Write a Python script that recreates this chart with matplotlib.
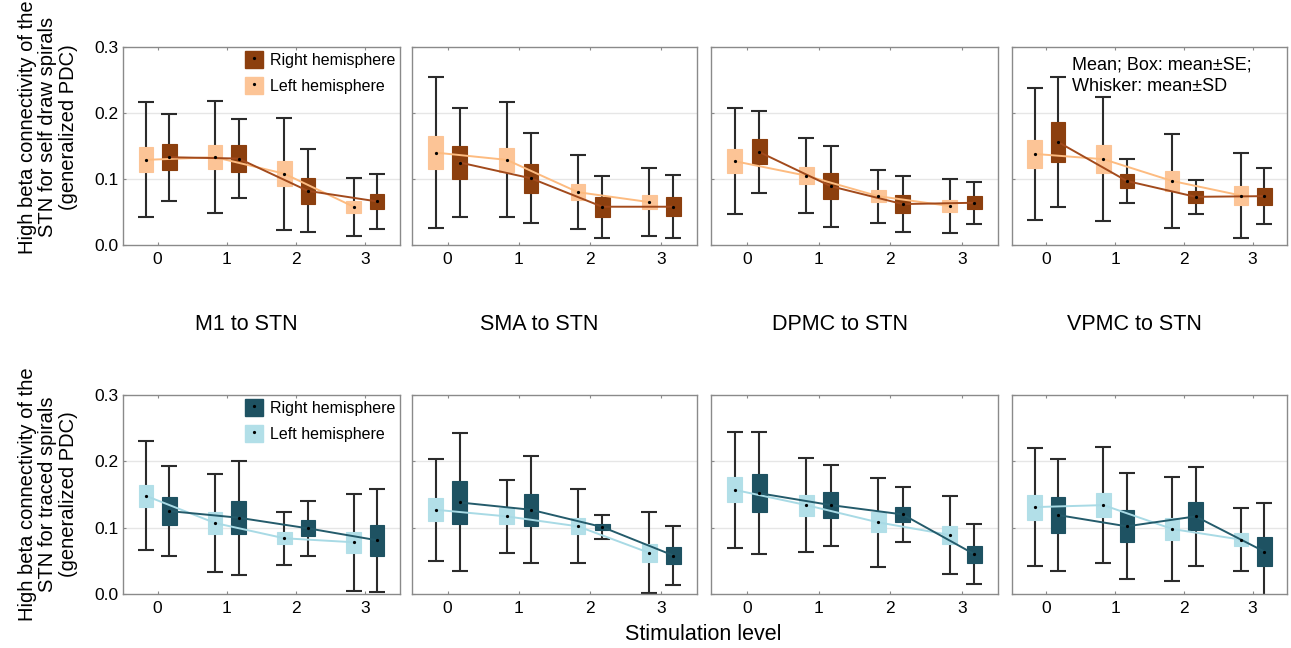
#high beta connectivity (generalized PDC) from cortical regions to STN
#box: mean +- SE, whisker: mean +- SD, per stimulation level and hemisphere

import numpy as np
import matplotlib.pyplot as plt
from matplotlib.patches import Patch
from matplotlib.lines import Line2D

plt.rcParams['font.family'] = ['Liberation Sans', 'DejaVu Sans']

regions = ["M1 to STN", "SMA to STN", "DPMC to STN", "VPMC to STN"]
levels = [0, 1, 2, 3]
y_ticks = [0.0, 0.1, 0.2, 0.3]

# self draw spirals, rows = regions, cols = stimulation level
self_left_mean = [[0.129, 0.133, 0.108, 0.058],
                  [0.140, 0.129, 0.080, 0.065],
                  [0.127, 0.105, 0.074, 0.059],
                  [0.138, 0.130, 0.097, 0.075]]
self_left_se = [[0.019, 0.018, 0.019, 0.009],
                [0.025, 0.018, 0.012, 0.011],
                [0.018, 0.013, 0.009, 0.009],
                [0.021, 0.021, 0.015, 0.014]]
self_left_sd = [[0.087, 0.085, 0.085, 0.044],
                [0.114, 0.087, 0.056, 0.052],
                [0.080, 0.057, 0.040, 0.041],
                [0.100, 0.094, 0.071, 0.064]]
self_right_mean = [[0.133, 0.131, 0.082, 0.066],
                   [0.125, 0.101, 0.058, 0.058],
                   [0.141, 0.089, 0.062, 0.064],
                   [0.156, 0.097, 0.073, 0.074]]
self_right_se = [[0.020, 0.020, 0.020, 0.012],
                 [0.025, 0.022, 0.015, 0.014],
                 [0.019, 0.020, 0.014, 0.010],
                 [0.030, 0.011, 0.009, 0.013]]
self_right_sd = [[0.066, 0.060, 0.063, 0.042],
                 [0.082, 0.068, 0.047, 0.048],
                 [0.062, 0.061, 0.042, 0.032],
                 [0.099, 0.034, 0.026, 0.042]]

# traced spirals
traced_left_mean = [[0.148, 0.107, 0.084, 0.078],
                    [0.127, 0.117, 0.102, 0.062],
                    [0.157, 0.134, 0.108, 0.089],
                    [0.131, 0.134, 0.098, 0.082]]
traced_left_se = [[0.017, 0.016, 0.009, 0.016],
                  [0.017, 0.012, 0.012, 0.014],
                  [0.019, 0.016, 0.015, 0.013],
                  [0.019, 0.018, 0.017, 0.010]]
traced_left_sd = [[0.082, 0.074, 0.040, 0.073],
                  [0.077, 0.055, 0.056, 0.061],
                  [0.087, 0.071, 0.067, 0.059],
                  [0.089, 0.087, 0.078, 0.048]]
traced_right_mean = [[0.125, 0.115, 0.099, 0.081],
                     [0.138, 0.127, 0.101, 0.058],
                     [0.152, 0.134, 0.120, 0.060],
                     [0.119, 0.102, 0.117, 0.064]]
traced_right_se = [[0.021, 0.025, 0.012, 0.023],
                   [0.033, 0.024, 0.004, 0.013],
                   [0.029, 0.020, 0.011, 0.013],
                   [0.027, 0.024, 0.021, 0.022]]
traced_right_sd = [[0.068, 0.086, 0.041, 0.078],
                   [0.104, 0.081, 0.018, 0.044],
                   [0.092, 0.061, 0.041, 0.045],
                   [0.084, 0.080, 0.075, 0.073]]

top_colors = {'right': '#8c3f0e', 'left': '#fcc496',
              'right_line': '#a24a1c', 'left_line': '#fdbb80'}
bottom_colors = {'right': '#1e5262', 'left': '#b2dfe8',
                 'right_line': '#245b6b', 'left_line': '#a8dae5'}

W, H = 1291, 648
fig = plt.figure(figsize=(W / 100, H / 100), dpi=100)

# axes pixel boxes (left, right) per column, (top, bottom) per row
col_px = [(123, 400), (412, 697), (711, 998), (1012, 1287)]
row_px = [(47, 245), (395, 594)]

offset = 0.17
box_w = 0.21
dot_ms = 1.3


def draw_group(ax, x, mean, se, sd, face, line_col):
    x = np.asarray(x, dtype=float)
    mean = np.asarray(mean)
    se = np.asarray(se)
    sd = np.asarray(sd)
    ax.errorbar(x, mean, yerr=sd, fmt='none', ecolor='#2b2b2b',
                elinewidth=1.5, capsize=5.5, capthick=1.5, zorder=2)
    ax.bar(x, 2 * se, bottom=mean - se, width=box_w, color=face,
           edgecolor=face, linewidth=0.8, zorder=3)
    ax.plot(x, mean, color=line_col, lw=1.4, zorder=4)
    ax.plot(x, mean, 'o', color='black', ms=dot_ms, zorder=5)


data_rows = [
    (self_left_mean, self_left_se, self_left_sd,
     self_right_mean, self_right_se, self_right_sd, top_colors),
    (traced_left_mean, traced_left_se, traced_left_sd,
     traced_right_mean, traced_right_se, traced_right_sd, bottom_colors),
]

axes = []
for r, (lm, ls, lsd, rm, rs, rsd, cols) in enumerate(data_rows):
    top, bot = row_px[r]
    for c in range(4):
        left, right = col_px[c]
        ax = fig.add_axes([left / W, 1 - bot / H, (right - left) / W, (bot - top) / H])
        axes.append(ax)
        x = np.array(levels)
        draw_group(ax, x - offset, lm[c], ls[c], lsd[c], cols['left'], cols['left_line'])
        draw_group(ax, x + offset, rm[c], rs[c], rsd[c], cols['right'], cols['right_line'])

        ax.set_xlim(-0.5, 3.5)
        ax.set_ylim(0, 0.3)
        ax.set_xticks(levels)
        ax.set_yticks(y_ticks)
        for g in [0.1, 0.2]:
            ax.axhline(g, color='#e6e6e6', lw=1, zorder=0)
        for s in ax.spines.values():
            s.set_color('#8a8a8a')
            s.set_linewidth(1)
        ax.tick_params(direction='in', length=2.5, color='#8a8a8a',
                       top=True, labelsize=12.5, pad=5)
        if c == 0:
            ax.set_yticklabels([f'{v:.1f}' for v in y_ticks])
            ax.tick_params(axis='y', pad=3)
        else:
            ax.set_yticklabels([])

        if c == 0:
            handles = [(Patch(facecolor=cols['right'], edgecolor=cols['right']),
                        Line2D([], [], ls='none', marker='o', ms=dot_ms, color='black')),
                       (Patch(facecolor=cols['left'], edgecolor=cols['left']),
                        Line2D([], [], ls='none', marker='o', ms=dot_ms, color='black'))]
            ax.legend(handles, ['Right hemisphere', 'Left hemisphere'],
                      loc='upper right', bbox_to_anchor=(1.035, 1.05),
                      frameon=False, fontsize=11.5, handlelength=1.1,
                      handleheight=1.25, handletextpad=0.45, labelspacing=0.55)

# note in the last top panel
axes[3].text(0.22, 0.95, 'Mean; Box: mean\u00b1SE;\nWhisker: mean\u00b1SD',
             transform=axes[3].transAxes, ha='left', va='top',
             fontsize=13, linespacing=1.35)

# region titles between the rows
for c, name in enumerate(regions):
    left, right = col_px[c]
    cx = (left + right) / 2 - 15
    fig.text(cx / W, 1 - 324 / H, name, ha='center', va='center', fontsize=15.5)

fig.text(48 / W, 1 - 127 / H,
         'High beta connectivity of the\nSTN for self draw spirals\n(generalized PDC)',
         rotation=90, ha='center', va='center', multialignment='center',
         fontsize=14.5, linespacing=1.12)
fig.text(48 / W, 1 - 494 / H,
         'High beta connectivity of the\nSTN for traced spirals\n(generalized PDC)',
         rotation=90, ha='center', va='center', multialignment='center',
         fontsize=14.5, linespacing=1.12)
fig.text(703 / W, 1 - 634 / H, 'Stimulation level', ha='center', va='center',
         fontsize=15.5)

plt.savefig('out.png', dpi=100)
